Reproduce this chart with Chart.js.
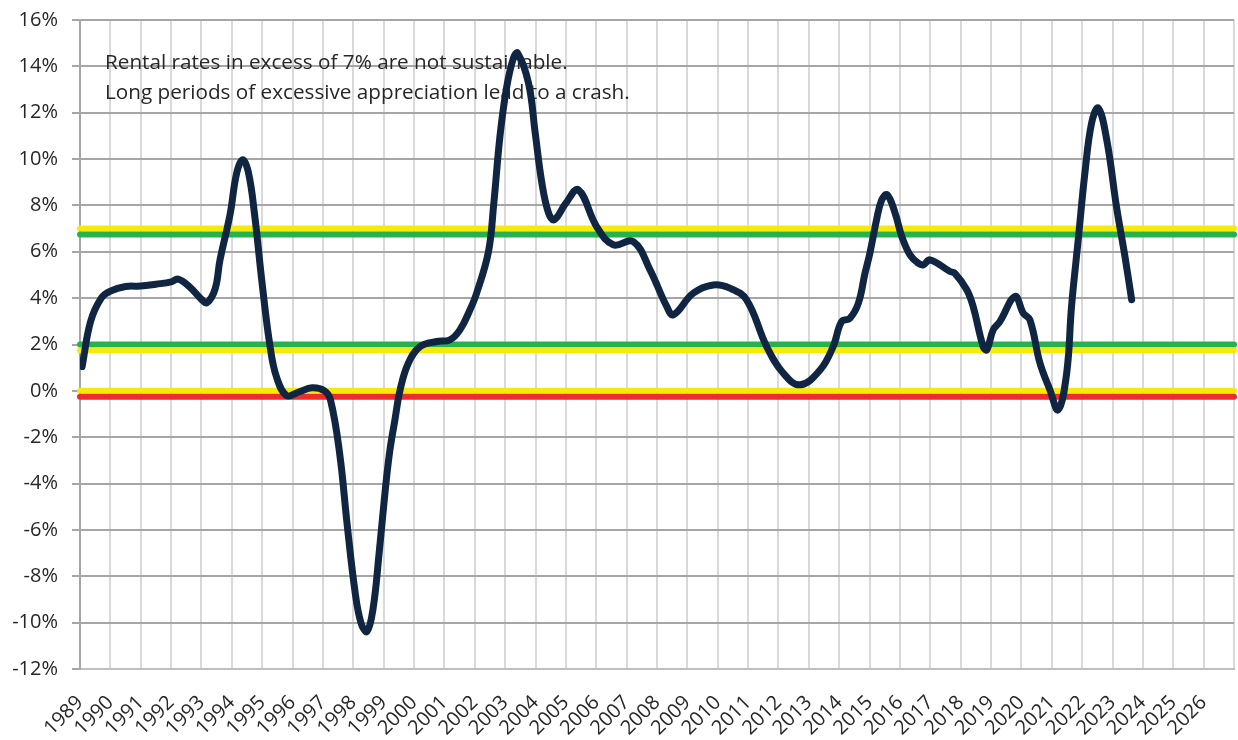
<!DOCTYPE html>
<html>
<head>
<meta charset="utf-8">
<script src="https://cdn.jsdelivr.net/npm/chart.js@4.4.0/dist/chart.umd.min.js"></script>
<style>
  html, body { margin: 0; padding: 0; background: #fff; }
  #wrap { width: 1238px; height: 740px; }
</style>
</head>
<body>
<div id="wrap"><canvas id="mainChart" width="1238" height="740"></canvas></div>
<script>
// --- Data ---
const rentYears = [
  1989.07, 1989.35, 1989.7, 1990.0, 1990.5, 1991.0, 1991.5, 1992.0, 1992.23, 1992.6,
  1993.0, 1993.18, 1993.45, 1993.61, 1993.94, 1994.16, 1994.36, 1994.55, 1994.75, 1995.0,
  1995.26, 1995.47, 1995.8, 1996.2, 1996.64, 1997.05, 1997.25, 1997.55, 1997.8, 1998.05,
  1998.25, 1998.45, 1998.65, 1998.85, 1999.05, 1999.2, 1999.37, 1999.54, 1999.81, 2000.2,
  2000.74, 2001.18, 2001.51, 2001.84, 2002.06, 2002.45, 2002.62, 2002.83, 2003.05, 2003.27,
  2003.41, 2003.77, 2003.99, 2004.21, 2004.43, 2004.62, 2005.0, 2005.41, 2006.01, 2006.56,
  2007.22, 2007.77, 2008.32, 2008.54, 2009.19, 2009.85, 2010.4, 2010.95, 2011.61, 2012.16,
  2012.71, 2013.37, 2013.8, 2014.08, 2014.35, 2014.63, 2014.85, 2015.01, 2015.23, 2015.4,
  2015.58, 2015.84, 2016.06, 2016.33, 2016.6, 2016.77, 2016.99, 2017.65, 2017.81, 2018.2,
  2018.41, 2018.74, 2018.86, 2019.07, 2019.29, 2019.79, 2020.06, 2020.28, 2020.61, 2020.94,
  2021.21, 2021.49, 2021.65, 2021.87, 2022.09, 2022.31, 2022.53, 2022.81, 2023.13, 2023.41,
  2023.63
];
const rentValues = [
  1.05, 3.0, 4.0, 4.3, 4.5, 4.52, 4.6, 4.7, 4.82, 4.5,
  3.95, 3.8, 4.4, 5.65, 7.6, 9.4, 9.97, 9.4, 7.6, 4.6,
  1.9, 0.6, -0.2, -0.05, 0.13, 0.0, -0.4, -2.7, -5.8, -8.6,
  -10.0, -10.38, -9.4, -7.0, -4.3, -2.6, -1.25, 0.04, 1.19, 1.91,
  2.13, 2.2, 2.63, 3.49, 4.21, 6.0, 8.0, 11.0, 13.1, 14.35,
  14.57, 13.27, 11.12, 8.96, 7.67, 7.38, 8.1, 8.67, 7.09, 6.3,
  6.44, 5.22, 3.64, 3.28, 4.21, 4.57, 4.43, 3.93, 1.91, 0.76,
  0.26, 0.9, 1.91, 2.99, 3.13, 3.78, 5.08, 5.94, 7.38, 8.24,
  8.46, 7.67, 6.66, 5.87, 5.51, 5.44, 5.65, 5.15, 5.07, 4.36,
  3.64, 1.91, 1.77, 2.63, 2.99, 4.07, 3.35, 3.06, 1.2, 0.04,
  -0.82, 0.76, 3.64, 6.51, 9.39, 11.55, 12.2, 10.83, 7.95, 5.79,
  3.93
];

// threshold bands
const bandLevels = [7, 6.75, 2, 1.75, 0, -0.25];
const bandColors = ['#f5ea0c', '#25b24f', '#25b24f', '#f5ea0c', '#f5ea0c', '#ef2b2d'];

const yearMin = 1989;
const yearMax = 2027;
const yMin = -12;
const yMax = 16;

const noteLines = [
  'Rental rates in excess of 7% are not sustainable.',
  'Long periods of excessive appreciation lead to a crash.'
];

// --- Chart ---
const FONT = '"Open Sans", "Noto Sans", sans-serif';
Chart.defaults.font.family = FONT;
Chart.defaults.font.size = 20;
Chart.defaults.color = '#262626';

const notePlugin = {
  id: 'note',
  beforeDatasetsDraw(chart) {
    const ctx = chart.ctx;
    ctx.save();
    ctx.fillStyle = '#262626';
    ctx.font = '20.7px ' + FONT;
    ctx.textBaseline = 'alphabetic';
    ctx.fillText(noteLines[0], 105, 69);
    ctx.fillText(noteLines[1], 105, 99);
    ctx.restore();
  }
};

const datasets = [{
  label: 'Rent',
  data: rentYears.map((x, i) => ({ x, y: rentValues[i] })),
  borderColor: '#0f2541',
  borderWidth: 7,
  pointRadius: 0,
  tension: 0.4,
  borderCapStyle: 'round',
  borderJoinStyle: 'round',
  order: 0
}];

bandLevels.forEach((lvl, i) => {
  datasets.push({
    label: 'band' + i,
    data: [{ x: yearMin, y: lvl }, { x: yearMax, y: lvl }],
    borderColor: bandColors[i],
    borderWidth: 6,
    pointRadius: 0,
    borderCapStyle: 'round',
    clip: false,
    order: 10 - i
  });
});

new Chart(document.getElementById('mainChart'), {
  type: 'line',
  data: { datasets },
  plugins: [notePlugin],
  options: {
    responsive: false,
    animation: false,
    layout: { padding: { top: 20, right: 4, left: 0, bottom: 0 } },
    plugins: { legend: { display: false }, tooltip: { enabled: false } },
    scales: {
      x: {
        type: 'linear',
        min: yearMin,
        max: yearMax,
        afterFit(scale) {
          scale.height = 71;
          scale.paddingRight = 0;
          scale.paddingLeft = 0;
        },
        ticks: {
          stepSize: 1,
          autoSkip: false,
          maxRotation: 45,
          minRotation: 45,
          padding: 22,
          callback: v => (v === yearMax ? '' : String(v))
        },
        grid: { color: '#d9d9d9', lineWidth: 2, drawTicks: false },
        border: { color: '#bfbfbf', width: 2 }
      },
      y: {
        min: yMin,
        max: yMax,
        afterFit(scale) {
          scale.width = 80;
          scale.paddingTop = 0;
          scale.paddingBottom = 0;
        },
        ticks: {
          stepSize: 2,
          padding: 14,
          callback: v => v + '%'
        },
        grid: { color: '#a6a6a6', lineWidth: 2, tickLength: 8 },
        border: { color: '#a6a6a6', width: 2 }
      }
    }
  }
});
</script>
</body>
</html>
